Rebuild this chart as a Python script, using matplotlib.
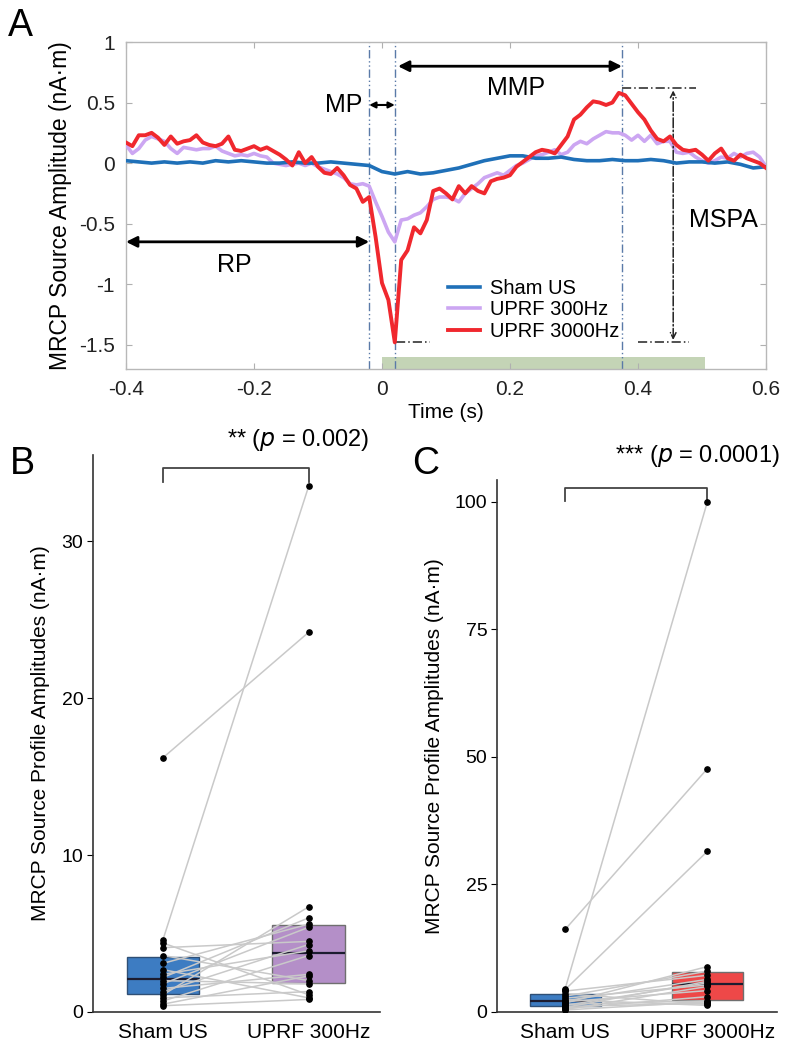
import numpy as np
import matplotlib
matplotlib.use("Agg")
import matplotlib.pyplot as plt

plt.rcParams['font.family'] = ['Liberation Sans', 'DejaVu Sans']

# ---------------- Panel A data ----------------
time_fine = np.round(np.arange(-0.40, 0.6001, 0.01), 2)
time_coarse = np.round(np.arange(-0.40, 0.6001, 0.02), 2)

uprf3000_trace = [0.17, 0.14, 0.23, 0.23, 0.25, 0.21, 0.15, 0.22, 0.16, 0.18,
                  0.19, 0.23, 0.17, 0.15, 0.14, 0.16, 0.22, 0.11, 0.10, 0.12,
                  0.14, 0.11, 0.13, 0.10, 0.07, 0.03, -0.02, 0.09, 0.00, 0.05,
                  -0.03, -0.08, -0.09, -0.04, -0.10, -0.18, -0.21, -0.32, -0.28, -0.61,
                  -0.99, -1.13, -1.48, -0.80, -0.72, -0.53, -0.58, -0.47, -0.23, -0.21,
                  -0.25, -0.30, -0.19, -0.25, -0.19, -0.23, -0.25, -0.15, -0.13, -0.12,
                  -0.10, -0.03, 0.01, 0.05, 0.09, 0.11, 0.10, 0.08, 0.15, 0.22,
                  0.36, 0.40, 0.46, 0.51, 0.50, 0.48, 0.50, 0.58, 0.56, 0.49,
                  0.42, 0.36, 0.27, 0.20, 0.18, 0.22, 0.15, 0.11, 0.10, 0.11,
                  0.07, 0.02, 0.08, 0.12, 0.04, 0.02, 0.07, 0.04, 0.02, 0.00,
                  -0.04]
uprf300_trace = [0.15, 0.08, 0.12, 0.19, 0.22, 0.20, 0.18, 0.12, 0.08, 0.13,
                 0.12, 0.11, 0.12, 0.12, 0.14, 0.10, 0.08, 0.06, 0.07, 0.06,
                 0.08, 0.06, 0.05, 0.00, -0.01, -0.02, -0.01, 0.00, -0.02, 0.00,
                 -0.03, -0.05, -0.07, -0.09, -0.12, -0.17, -0.18, -0.17, -0.19, -0.32,
                 -0.44, -0.57, -0.65, -0.47, -0.46, -0.43, -0.41, -0.36, -0.30, -0.28,
                 -0.28, -0.29, -0.32, -0.25, -0.21, -0.17, -0.12, -0.10, -0.08, -0.10,
                 -0.06, -0.02, 0.00, 0.03, 0.06, 0.07, 0.09, 0.11, 0.07, 0.09,
                 0.15, 0.18, 0.16, 0.20, 0.23, 0.26, 0.25, 0.25, 0.23, 0.19,
                 0.23, 0.18, 0.23, 0.16, 0.18, 0.18, 0.09, 0.08, 0.09, 0.05,
                 0.02, 0.00, 0.02, 0.05, 0.04, 0.08, 0.05, 0.08, 0.09, 0.05,
                 -0.03]
sham_trace = [0.02, 0.01, 0.00, 0.01, 0.00, 0.01, 0.00, 0.02, 0.01, 0.02,
              0.01, 0.00, 0.00, 0.01, 0.00, 0.00, 0.01, 0.00, -0.01, -0.02,
              -0.07, -0.09, -0.07, -0.09, -0.08, -0.06, -0.04, -0.01, 0.02, 0.04,
              0.06, 0.06, 0.04, 0.04, 0.05, 0.03, 0.02, 0.02, 0.03, 0.02,
              0.02, 0.03, 0.02, 0.00, 0.01, 0.01, 0.00, 0.01, -0.01, -0.04,
              -0.03]
trace_labels = ['Sham US', 'UPRF 300Hz', 'UPRF 3000Hz']

# event markers (s)
t_rp_end = -0.02
t_mp_end = 0.02
t_peak = 0.375
stim_window = (0.0, 0.505)

# ---------------- Panels B / C data ----------------
categories_B = ['Sham US', 'UPRF 300Hz']
categories_C = ['Sham US', 'UPRF 3000Hz']
sham_amp = [16.2, 4.6, 4.4, 4.1, 3.6, 3.1, 2.7, 2.4, 2.2, 2.0, 1.8, 1.5, 1.3, 1.1, 0.9, 0.7, 0.5, 0.4]
uprf300_amp = [24.2, 33.5, 1.1, 4.5, 2.0, 5.6, 0.9, 3.9, 6.0, 1.8, 5.4, 2.4, 4.3, 6.7, 1.3, 3.6, 2.3, 0.8]
uprf3000_amp = [47.7, 100.0, 31.5, 7.2, 1.5, 8.0, 5.3, 1.3, 6.4, 4.2, 8.9, 2.2, 5.7, 1.7, 6.0, 3.0, 5.0, 2.0]
p_text_B = r'** ($\it{p}$ = 0.002)'
p_text_C = r'*** ($\it{p}$ = 0.0001)'

C_SHAM = '#1f70b8'
C_300 = '#cca6f2'
C_3000 = '#f0282e'

fig = plt.figure(figsize=(8.11, 10.5), dpi=100)

# ================= Panel A =================
axA = fig.add_axes([126/811, 1-369/1050, 640/811, 327/1050])
axA.fill_between(stim_window, -1.70, -1.60, color='#c4d4b6', lw=0, zorder=1)
lb, = axA.plot(time_coarse, sham_trace, color=C_SHAM, lw=2.6, zorder=4)
ll, = axA.plot(time_fine, uprf300_trace, color=C_300, lw=2.6, zorder=3)
lr, = axA.plot(time_fine, uprf3000_trace, color=C_3000, lw=2.8, zorder=5)
for tx in (t_rp_end, t_mp_end, t_peak):
    axA.axvline(tx, color='#5a7aa8', lw=1.0, ls=(0, (6, 2, 1, 2, 1, 2)), zorder=2)
axA.set_xlim(-0.4, 0.6)
axA.set_ylim(-1.7, 1.0)
axA.set_xticks([-0.4, -0.2, 0, 0.2, 0.4, 0.6])
axA.set_xticklabels(['-0.4', '-0.2', '0', '0.2', '0.4', '0.6'])
axA.set_yticks([1, 0.5, 0, -0.5, -1, -1.5])
axA.set_yticklabels(['1', '0.5', '0', '-0.5', '-1', '-1.5'])
axA.tick_params(direction='in', top=True, right=True, length=4, color='#b0b0b0',
                labelsize=15, labelcolor='#222222', pad=8)
for s in axA.spines.values():
    s.set_color('#b8b8b8')
    s.set_linewidth(1.0)
axA.set_xlabel('Time (s)', fontsize=15, labelpad=3)
axA.set_ylabel('MRCP Source Amplitude (nA·m)', fontsize=16.5, labelpad=5)

arw = dict(arrowstyle='<|-|>', color='black', lw=2.0, mutation_scale=16, shrinkA=0, shrinkB=0)
axA.annotate('', xy=(-0.4, -0.65), xytext=(t_rp_end, -0.65), arrowprops=arw)
axA.text(-0.23, -0.84, 'RP', fontsize=18, ha='center', va='center')
arw2 = dict(arrowstyle='<|-|>', color='black', lw=1.5, mutation_scale=9, shrinkA=0, shrinkB=0)
axA.annotate('', xy=(t_rp_end, 0.48), xytext=(t_mp_end, 0.48), arrowprops=arw2)
axA.text(-0.031, 0.48, 'MP', fontsize=18, ha='right', va='center')
axA.annotate('', xy=(t_mp_end + 0.005, 0.80), xytext=(t_peak, 0.80), arrowprops=arw)
axA.text(0.21, 0.62, 'MMP', fontsize=18, ha='center', va='center')
# MSPA
dd = (0, (6, 2, 1, 2))
axA.plot([t_peak, 0.49], [0.62, 0.62], color='#222222', lw=1.1, ls=dd)
axA.plot([0.40, 0.48], [-1.48, -1.48], color='#222222', lw=1.1, ls=dd)
axA.plot([0.022, 0.075], [-1.48, -1.48], color='#222222', lw=1.1, ls=dd)
axA.annotate('', xy=(0.455, 0.60), xytext=(0.455, -1.46),
             arrowprops=dict(arrowstyle='<->', color='#222222', lw=1.1, ls='-.',
                             mutation_scale=10, shrinkA=0, shrinkB=0))
axA.text(0.48, -0.47, 'MSPA', fontsize=18, ha='left', va='center')

axA.legend([lb, ll, lr], trace_labels, loc='upper left', bbox_to_anchor=(0.49, 0.30),
           frameon=False, fontsize=14.5, handlelength=1.6, handletextpad=0.5,
           labelspacing=0.12, borderaxespad=0)

fig.text(8/811, 1-8/1050, 'A', fontsize=27, va='top', ha='left')
fig.text(10/811, 1-446/1050, 'B', fontsize=27, va='top', ha='left')
fig.text(412/811, 1-446/1050, 'C', fontsize=27, va='top', ha='left')


def paired_panel(ax, a, b, color_b, cats, ylim, yticks, ptext, bracket_y, leg, text_y):
    n = len(a)
    bp = ax.boxplot([a, b], positions=[0, 1], widths=0.5, patch_artist=True,
                    showfliers=False, showcaps=False, whis=0, zorder=2,
                    medianprops=dict(color='#1c1c30', lw=1.6),
                    whiskerprops=dict(lw=0))
    for patch, fc, ec in zip(bp['boxes'], ['#3d7cc2', color_b], ['#2f4f75', '#6f6f6f']):
        patch.set_facecolor(fc)
        patch.set_edgecolor(ec)
        patch.set_linewidth(1.0)
    for i in range(n):
        ax.plot([0, 1], [a[i], b[i]], color='#c9c9c9', lw=1.1, zorder=3)
    ax.plot(np.zeros(n), a, 'o', color='black', ms=3.8, zorder=4)
    ax.plot(np.ones(n), b, 'o', color='black', ms=3.8, zorder=4)
    ax.set_xlim(-0.48, 1.49)
    ax.set_ylim(*ylim)
    ax.set_yticks(yticks)
    ax.set_xticks([0, 1])
    ax.set_xticklabels(cats, fontsize=15)
    ax.tick_params(axis='x', length=0, pad=8)
    ax.tick_params(axis='y', direction='out', length=4, labelsize=14, pad=3)
    for s in ('top', 'right'):
        ax.spines[s].set_visible(False)
    for s in ('left', 'bottom'):
        ax.spines[s].set_linewidth(1.2)
        ax.spines[s].set_color('#333333')
    ax.set_ylabel('MRCP Source Profile Amplitudes (nA·m)', fontsize=15, labelpad=8)
    ax.plot([0, 0, 1, 1], [bracket_y - leg, bracket_y, bracket_y, bracket_y - leg],
            color='#444444', lw=1.3, clip_on=False)
    ax.text(0.93, text_y, ptext, fontsize=17, ha='center', va='bottom', clip_on=False)


axB = fig.add_axes([93/811, 1-1012/1050, 287/811, 557/1050])
paired_panel(axB, sham_amp, uprf300_amp, '#b48fc8', categories_B, (0, 35.5),
             [0, 10, 20, 30], p_text_B, 34.7, 0.9, 35.6)

axC = fig.add_axes([497/811, 1-1012/1050, 280/811, 532/1050])
paired_panel(axC, sham_amp, uprf3000_amp, '#ee4848', categories_C, (0, 104.3),
             [0, 25, 50, 75, 100], p_text_C, 102.8, 2.6, 106.5)

fig.savefig('out.png', dpi=100)
